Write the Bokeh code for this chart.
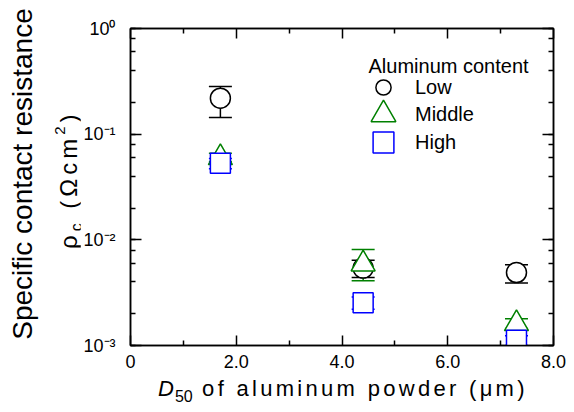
import numpy as np
from bokeh.plotting import figure
from bokeh.layouts import row, column
from bokeh.models import (ColumnDataSource, Whisker, TeeHead, Legend, LegendItem, Label, Div,
                          LinearAxis, LogAxis, FixedTicker, LogTicker, CustomJSTickFormatter)
from bokeh.embed import file_html
from bokeh.resources import INLINE

# ---------------- data ----------------
d50 = [1.7, 4.4, 7.3]
low = [0.219, 0.0054, 0.0049]
low_lower = [0.144, 0.0044, 0.0039]
low_upper = [0.283, 0.0064, 0.0058]
middle = [0.060, 0.0059, 0.00161]
middle_lower = [0.055, 0.0041, 0.00145]
middle_upper = [0.066, 0.0081, 0.00179]
high = [0.0532, 0.00254, 0.00112]
high_lower = [0.047, 0.0022, 0.00100]
high_upper = [0.059, 0.00287, 0.00124]

series_names = ["Low", "Middle", "High"]
legend_title = "Aluminum content"
xticks = [0, 2, 4, 6, 8]
xtick_labels = ["0", "2.0", "4.0", "6.0", "8.0"]
xminor = [1, 3, 5, 7]

FONT = "Liberation Sans"
TOTAL_W, TOTAL_H = 566, 404
OX = 80                      # width of the left title strip
FIG_W, FIG_H = TOTAL_W - OX, 377
FL, FR, FT, FB = 130 - OX, 553 - OX, 28, 345   # frame edges in figure px

p = figure(width=FIG_W, height=FIG_H, x_range=(0, 8), y_range=(1e-3, 1),
           y_axis_type="log", output_backend="svg", toolbar_location=None,
           min_border_left=FL, min_border_right=FIG_W - FR, min_border_top=FT,
           min_border_bottom=FIG_H - FB, background_fill_color="white",
           border_fill_color="white", margin=0)
p.grid.visible = False
p.outline_line_color = "black"
p.outline_line_width = 1.5

xticker = FixedTicker(ticks=xticks, minor_ticks=xminor)
yticker = LogTicker()
sup_fmt = CustomJSTickFormatter(code="""
const sup = {'-':'⁻','0':'⁰','1':'¹','2':'²','3':'³','4':'⁴'};
const e = Math.round(Math.log10(tick));
return '10' + String(e).split('').map(c => sup[c]).join('');
""")
blank_fmt = CustomJSTickFormatter(code="return ''")

def style(ax, major_in):
    ax.axis_line_width = 1.5
    ax.axis_line_color = "black"
    ax.major_tick_in = major_in
    ax.major_tick_out = 0
    ax.minor_tick_in = 5
    ax.minor_tick_out = 0
    ax.major_tick_line_width = 1.5
    ax.minor_tick_line_width = 1.5
    ax.major_tick_line_color = "black"
    ax.minor_tick_line_color = "black"
    ax.major_label_text_font = FONT
    ax.major_label_text_font_size = "18px"
    ax.major_label_text_color = "black"

xa = p.xaxis[0]
xa.ticker = xticker
xa.major_label_overrides = {t: l for t, l in zip(xticks, xtick_labels)}
style(xa, 10)
xa.major_label_standoff = 9

ya = p.yaxis[0]
ya.ticker = yticker
ya.formatter = sup_fmt
style(ya, 11)
ya.major_label_standoff = 15

top = LinearAxis(ticker=xticker, formatter=blank_fmt)
style(top, 10)
top.major_label_text_font_size = "0px"
top.major_label_standoff = 0
p.add_layout(top, "above")

right = LogAxis(ticker=yticker, formatter=blank_fmt)
style(right, 11)
right.major_label_text_font_size = "0px"
right.major_label_standoff = 0
p.add_layout(right, "right")

# ---------------- error bars + markers ----------------
colors = ["black", "green", "blue"]
vals = [low, middle, high]
lowers = [low_lower, middle_lower, high_lower]
uppers = [low_upper, middle_upper, high_upper]
sources = []
for v, lo, up, c in zip(vals, lowers, uppers, colors):
    src = ColumnDataSource(dict(x=d50, y=v, lower=lo, upper=up))
    sources.append(src)
    w = Whisker(base="x", lower="lower", upper="upper", source=src, dimension="height",
                line_color=c, line_width=1.5,
                upper_head=TeeHead(size=23, line_color=c, line_width=1.5),
                lower_head=TeeHead(size=23, line_color=c, line_width=1.5))
    p.add_layout(w)

markers = ["circle", "triangle", "square"]
sizes = [20, 24, 20]
renderers = []
for src, m, s, c in zip(sources, markers, sizes, colors):
    r = p.scatter("x", "y", source=src, marker=m, size=s, line_color=c,
                  line_width=1.5, fill_color="white")
    renderers.append(r)

# ---------------- legend: one transparent box per entry ----------------
row_centers = [87, 114, 142]          # figure px
glyph_boxes = [38, 62, 52]            # legend marker = 0.4 * box
glyph_cx, label_x = 383 - OX, 415 - OX
for name, r, cy, gb in zip(series_names, renderers, row_centers, glyph_boxes):
    lg = Legend(items=[LegendItem(label=name, renderers=[r])],
                location=(glyph_cx - gb / 2 - FL, FB - (cy + gb / 2)),
                glyph_width=gb, glyph_height=gb, spacing=0,
                label_standoff=int(round(label_x - (glyph_cx + gb / 2))),
                padding=0, margin=0, border_line_color=None,
                background_fill_alpha=0, label_text_font=FONT,
                label_text_font_size="20px", label_text_color="black")
    p.add_layout(lg)

try:
    Label(x=0, y=0, x_units="canvas", y_units="canvas", text="t")
    UNITS = "canvas"
except Exception:
    UNITS = "screen"
p.add_layout(Label(x=368 - OX, y=65 if UNITS == "canvas" else FIG_H - 65,
                   x_units=UNITS, y_units=UNITS, text=legend_title, text_font=FONT,
                   text_font_size="20px", text_baseline="alphabetic", text_color="black"))

# ---------------- axis titles (HTML, with italic / sub / superscripts) ----------------
ff = f"font-family:'{FONT}',Arial,sans-serif;color:black;white-space:nowrap;"
ytitle_html = (
    f"<div style='position:relative;width:{OX}px;height:{TOTAL_H}px;{ff}'>"
    f"<div style='position:absolute;left:9.3px;top:374px;width:400px;text-align:center;"
    f"font-size:28px;line-height:28px;transform-origin:0 0;transform:rotate(-90deg);'>"
    f"Specific contact resistance</div>"
    f"<div style='position:absolute;left:47.5px;top:249px;width:200px;text-align:left;"
    f"font-size:24px;line-height:24px;letter-spacing:4px;transform-origin:0 0;"
    f"transform:rotate(-90deg);'>ρ<span style='font-size:16px;vertical-align:-5px;'>c</span>"
    f" (Ωcm<span style='font-size:15px;vertical-align:12px;'>2</span>)</div>"
    f"</div>"
)
xtitle_html = (
    f"<div style='position:relative;width:{FIG_W}px;height:{TOTAL_H - FIG_H}px;{ff}'>"
    f"<div style='position:absolute;left:{158 - OX}px;top:0px;font-size:22px;line-height:24px;"
    f"letter-spacing:3.3px;'><span style='font-style:italic;letter-spacing:1px;'>D</span>"
    f"<span style='font-size:16px;vertical-align:-6px;letter-spacing:0px;'>50</span>"
    f" of aluminum powder (μm)</div>"
    f"</div>"
)
ydiv = Div(text=ytitle_html, width=OX, height=TOTAL_H, margin=0)
xdiv = Div(text=xtitle_html, width=FIG_W, height=TOTAL_H - FIG_H, margin=0)

layout = row(ydiv, column(p, xdiv, spacing=0), spacing=0)

open("out.html", "w").write(file_html(layout, INLINE))
